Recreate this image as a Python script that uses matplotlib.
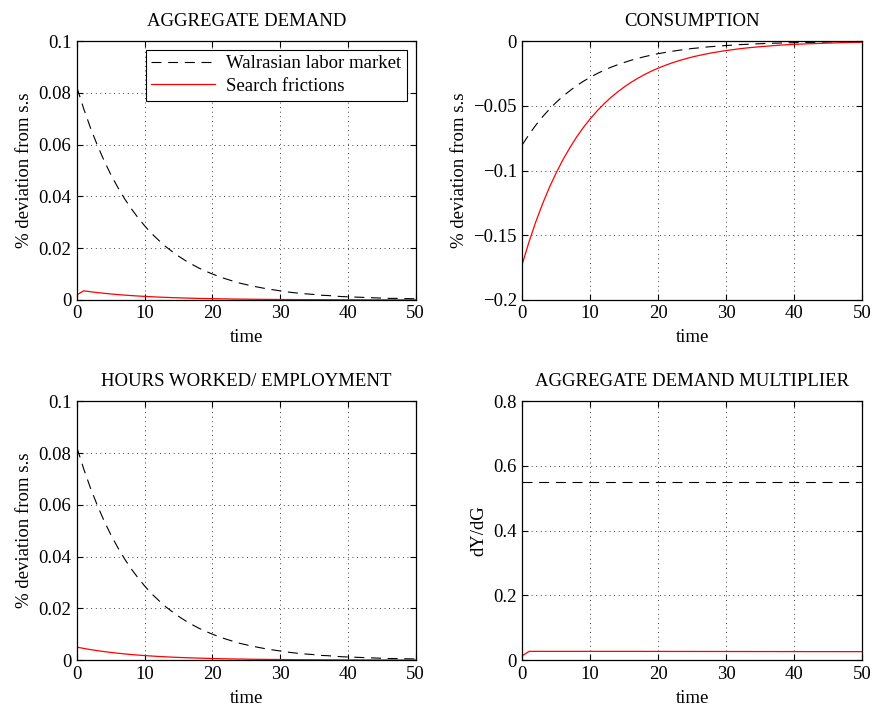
"""Impulse responses: Walrasian labor market vs search frictions (2x2 panel)."""
import matplotlib
matplotlib.use("Agg")
import matplotlib.pyplot as plt
from matplotlib.ticker import FuncFormatter

plt.rcParams.update({"font.family": ["Liberation Serif", "DejaVu Serif"],
                     "font.size": 13.5, "axes.linewidth": 0.9,
                     "xtick.direction": "in", "ytick.direction": "in",
                     "xtick.top": True, "ytick.right": True})

T = list(range(51))

# values (x1e-3 where noted)
AD_WALRAS = [82.0, 73.8, 66.4, 59.8, 53.8, 48.4, 43.6, 39.2, 35.3, 31.8,
             28.6, 25.7, 23.2, 20.8, 18.8, 16.9, 15.2, 13.7, 12.3, 11.1,
             10.0, 9.0, 8.1, 7.3, 6.5, 5.9, 5.3, 4.8, 4.3, 3.9,
             3.5, 3.1, 2.8, 2.5, 2.3, 2.1, 1.8, 1.7, 1.5, 1.3,
             1.2, 1.1, 1.0, 0.9, 0.8, 0.7, 0.6, 0.6, 0.5, 0.5, 0.4]
AD_SEARCH = [2.0, 3.50, 3.15, 2.84, 2.55, 2.30, 2.07, 1.86, 1.67, 1.51, 1.36,
             1.22, 1.10, 0.99, 0.89, 0.80, 0.72, 0.65, 0.58, 0.53, 0.47,
             0.43, 0.38, 0.34, 0.31, 0.28, 0.25, 0.23, 0.20, 0.18, 0.16,
             0.15, 0.13, 0.12, 0.11, 0.10, 0.09, 0.08, 0.07, 0.06, 0.06,
             0.05, 0.05, 0.04, 0.04, 0.03, 0.03, 0.03, 0.02, 0.02, 0.02]
C_WALRAS = [-80.0, -72.0, -64.8, -58.3, -52.5, -47.2, -42.5, -38.3, -34.4, -31.0,
            -27.9, -25.1, -22.6, -20.3, -18.3, -16.5, -14.8, -13.3, -12.0, -10.8,
            -9.7, -8.8, -7.9, -7.1, -6.4, -5.7, -5.2, -4.6, -4.2, -3.8,
            -3.4, -3.1, -2.7, -2.5, -2.2, -2.0, -1.8, -1.6, -1.5, -1.3,
            -1.2, -1.1, -1.0, -0.9, -0.8, -0.7, -0.6, -0.6, -0.5, -0.5, -0.4]
C_SEARCH = [-172.0, -154.8, -139.3, -125.4, -112.8, -101.6, -91.4, -82.3, -74.0, -66.6,
            -60.0, -54.0, -48.6, -43.7, -39.4, -35.4, -31.9, -28.7, -25.8, -23.2,
            -20.9, -18.8, -16.9, -15.2, -13.7, -12.3, -11.1, -10.0, -9.0, -8.1,
            -7.3, -6.6, -5.9, -5.3, -4.8, -4.3, -3.9, -3.5, -3.1, -2.8,
            -2.5, -2.3, -2.1, -1.9, -1.7, -1.5, -1.4, -1.2, -1.1, -1.0, -0.9]
N_WALRAS = AD_WALRAS  # hours response overlaps output response
N_SEARCH = [5.0, 4.5, 4.05, 3.65, 3.28, 2.95, 2.66, 2.39, 2.15, 1.94,
            1.74, 1.57, 1.41, 1.27, 1.14, 1.03, 0.93, 0.83, 0.75, 0.68,
            0.61, 0.55, 0.49, 0.44, 0.40, 0.36, 0.32, 0.29, 0.26, 0.24,
            0.21, 0.19, 0.17, 0.15, 0.14, 0.13, 0.11, 0.10, 0.09, 0.08,
            0.07, 0.07, 0.06, 0.05, 0.05, 0.04, 0.04, 0.04, 0.03, 0.03, 0.03]
MULT_WALRAS = [0.55] * 51
MULT_SEARCH = [0.014, 0.027, 0.027, 0.027, 0.027, 0.027, 0.027, 0.027, 0.027, 0.027,
               0.027, 0.027, 0.027, 0.027, 0.027, 0.027, 0.027, 0.027, 0.0268, 0.0268,
               0.0268, 0.0268, 0.0267, 0.0267, 0.0267, 0.0267, 0.0266, 0.0266, 0.0266, 0.0266,
               0.0265, 0.0265, 0.0265, 0.0265, 0.0264, 0.0264, 0.0264, 0.0264, 0.0263, 0.0263,
               0.0263, 0.0263, 0.0262, 0.0262, 0.0262, 0.0262, 0.0262, 0.0261, 0.0261, 0.0261, 0.0261]

DASH = (0, (9, 6))


def scaled(v):
    return [x / 1000.0 for x in v]


def fmt(x, pos):
    s = "%g" % round(x, 6)
    return s.replace("-", "\u2212")


def style(ax, title, ylabel, ylim, yticks):
    ax.set_xlim(0, 50)
    ax.set_ylim(*ylim)
    ax.set_xticks(range(0, 51, 10))
    ax.set_yticks(yticks)
    ax.yaxis.set_major_formatter(FuncFormatter(fmt))
    ax.grid(True, linestyle=(0, (1, 4.5)), color="black", linewidth=0.6)
    ax.set_title(title, fontsize=13.5, pad=11)
    ax.set_xlabel("time", labelpad=5)
    ax.set_ylabel(ylabel, labelpad=4)
    ax.tick_params(length=4, width=0.8, pad=4)


fig = plt.figure(figsize=(8.75, 7.09), dpi=100)
pos = [[0.088, 0.577, 0.387, 0.365], [0.597, 0.577, 0.388, 0.365],
       [0.088, 0.069, 0.387, 0.365], [0.597, 0.069, 0.388, 0.365]]
a, b, c, d = [fig.add_axes(p) for p in pos]

a.plot(T, scaled(AD_WALRAS), color="black", linestyle=DASH, lw=0.8,
       label="Walrasian labor market")
a.plot(T, scaled(AD_SEARCH), color="red", lw=0.9, label="Search frictions")
style(a, "AGGREGATE DEMAND", "% deviation from s.s", (0, 0.1),
      [0, 0.02, 0.04, 0.06, 0.08, 0.1])
leg = a.legend(loc="upper right", fancybox=False, edgecolor="black",
               framealpha=1, handlelength=3.4, borderpad=0.3,
               labelspacing=0.3, fontsize=13.5, borderaxespad=0.45,
               handletextpad=0.6)
leg.get_frame().set_linewidth(0.8)

b.plot(T, scaled(C_WALRAS), color="black", linestyle=DASH, lw=0.8)
b.plot(T, scaled(C_SEARCH), color="red", lw=0.9)
style(b, "CONSUMPTION", "% deviation from s.s", (-0.2, 0),
      [-0.2, -0.15, -0.1, -0.05, 0])

c.plot(T, scaled(N_WALRAS), color="black", linestyle=DASH, lw=0.8)
c.plot(T, scaled(N_SEARCH), color="red", lw=0.9)
style(c, "HOURS WORKED/ EMPLOYMENT", "% deviation from s.s", (0, 0.1),
      [0, 0.02, 0.04, 0.06, 0.08, 0.1])

d.plot(T, MULT_WALRAS, color="black", linestyle=DASH, lw=0.8)
d.plot(T, MULT_SEARCH, color="red", lw=0.9)
style(d, "AGGREGATE DEMAND MULTIPLIER", "dY/dG", (0, 0.8),
      [0, 0.2, 0.4, 0.6, 0.8])

fig.savefig("out.png", dpi=100)
